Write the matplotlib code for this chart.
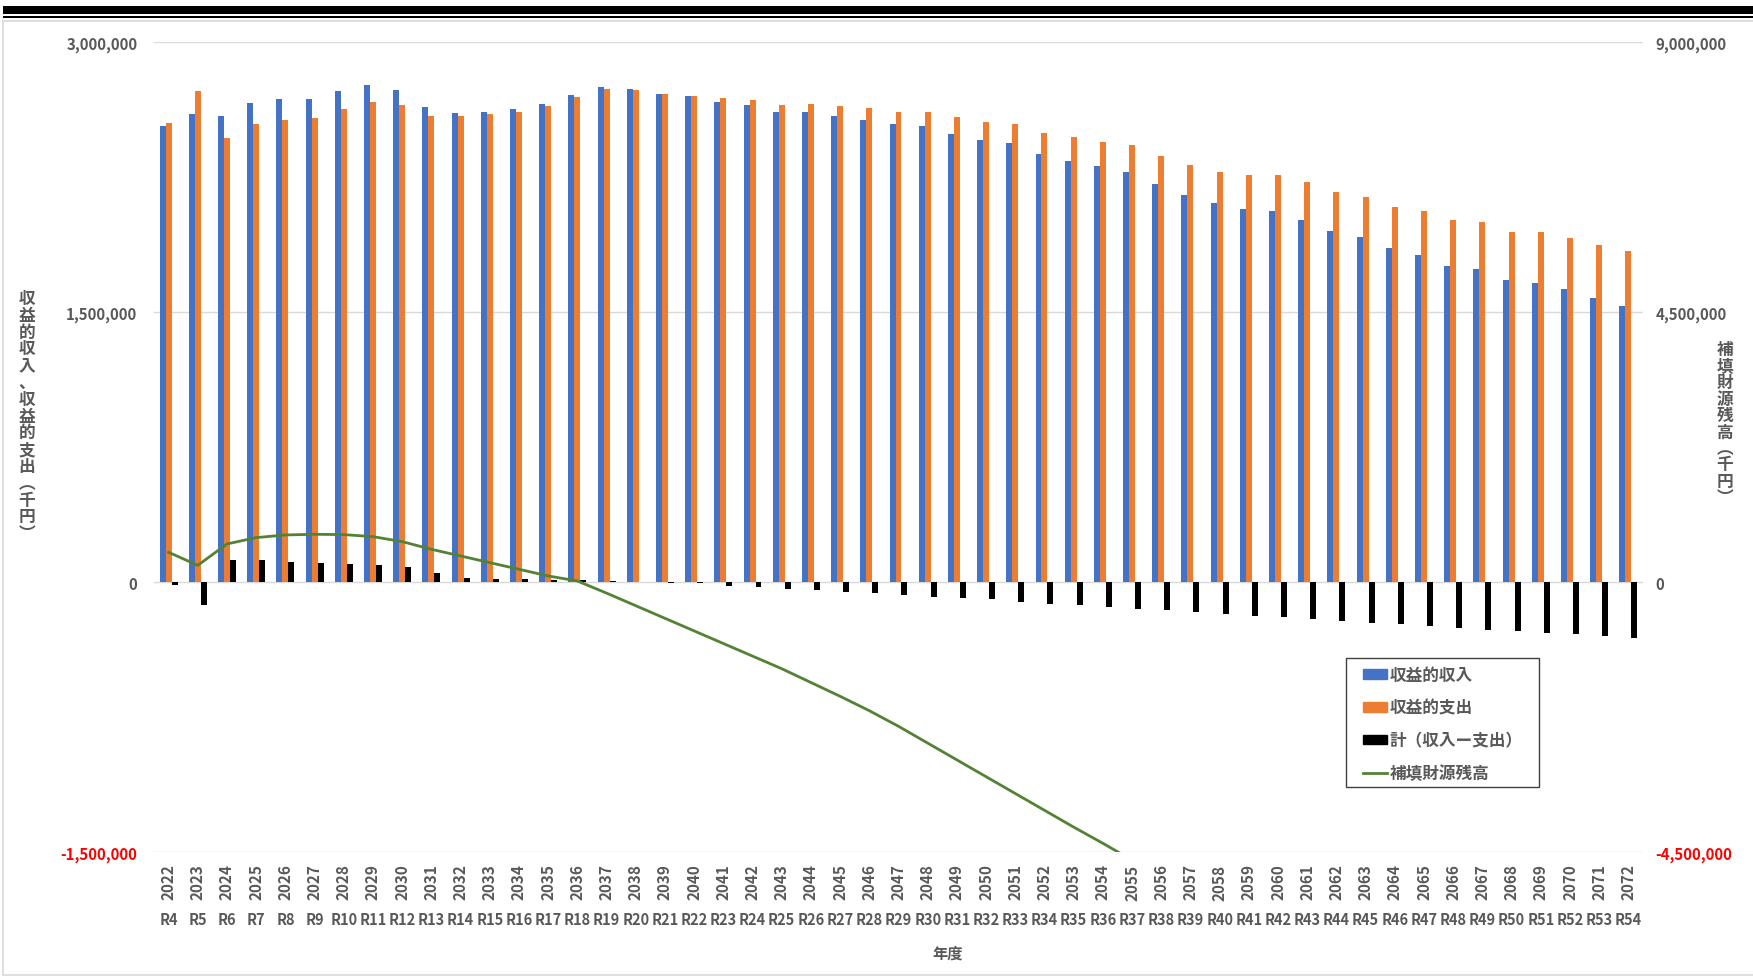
import numpy as np
import matplotlib
matplotlib.use("Agg")
import matplotlib.pyplot as plt
import matplotlib.transforms as mtransforms
from matplotlib.patches import Patch, Rectangle
from matplotlib.lines import Line2D
from matplotlib.ticker import FuncFormatter

plt.rcParams['font.family'] = ['Noto Sans CJK JP', 'DejaVu Sans']
plt.rcParams['font.weight'] = 'bold'

# 年度（西暦・令和）
years = [2022, 2023, 2024, 2025, 2026, 2027, 2028, 2029, 2030, 2031,
         2032, 2033, 2034, 2035, 2036, 2037, 2038, 2039, 2040, 2041,
         2042, 2043, 2044, 2045, 2046, 2047, 2048, 2049, 2050, 2051,
         2052, 2053, 2054, 2055, 2056, 2057, 2058, 2059, 2060, 2061,
         2062, 2063, 2064, 2065, 2066, 2067, 2068, 2069, 2070, 2071, 2072]
reiwa = ["R%d" % (y - 2018) for y in years]

# 収益的収入（千円）
revenue = [2534000, 2602000, 2590000, 2665000, 2683000, 2683000, 2727000, 2764000, 2733000, 2640000,
           2609000, 2615000, 2627000, 2658000, 2708000, 2752000, 2739000, 2714000, 2702000, 2671000,
           2652000, 2615000, 2615000, 2590000, 2571000, 2547000, 2534000, 2491000, 2460000, 2441000,
           2379000, 2342000, 2311000, 2280000, 2211000, 2149000, 2106000, 2075000, 2062000, 2012000,
           1950000, 1919000, 1857000, 1820000, 1758000, 1739000, 1677000, 1665000, 1627000, 1578000,
           1534000]

# 収益的支出（千円）
expense = [2553000, 2727000, 2466000, 2547000, 2571000, 2578000, 2627000, 2671000, 2652000, 2590000,
           2590000, 2602000, 2615000, 2646000, 2696000, 2739000, 2733000, 2714000, 2702000, 2689000,
           2677000, 2652000, 2658000, 2646000, 2634000, 2615000, 2615000, 2584000, 2559000, 2547000,
           2497000, 2472000, 2447000, 2429000, 2366000, 2317000, 2280000, 2261000, 2261000, 2224000,
           2168000, 2143000, 2087000, 2062000, 2012000, 2000000, 1944000, 1944000, 1913000, 1876000,
           1839000]

# 計（収入ー支出）
balance = [-15000, -125000, 126000, 122000, 113000, 109000, 104000, 96000, 87000, 52000,
           22000, 19000, 17000, 13000, 11000, 9000, 3000, -2000, -6000, -19000,
           -26000, -35000, -43000, -52000, -61000, -70000, -80000, -87000, -95000, -108000,
           -118000, -128000, -139000, -148000, -156000, -167000, -178000, -185000, -194000, -206000,
           -215000, -224000, -233000, -243000, -252000, -263000, -270000, -280000, -289000, -298000,
           -307000]

# 補填財源残高（千円）※2055年度以降はグラフ範囲外
reserve = [500000, 283000, 639000, 745000, 789000, 800000, 795000, 761000, 678000, 550000,
           439000, 328000, 217000, 106000, 22000, -180000, -390000, -600000, -810000, -1020000,
           -1230000, -1440000, -1670000, -1900000, -2140000, -2400000, -2680000, -2960000, -3240000, -3520000,
           -3800000, -4080000, -4350000, -4630000]

W, H = 1753, 978
GRAY = '#595959'
BLUE = '#4472C4'
ORANGE = '#ED7D31'
GREEN = '#548235'

fig = plt.figure(figsize=(W / 100, H / 100), dpi=100)

# 上部の飾り罫線と枠
fig.add_artist(Rectangle((3 / W, 1 - 15 / H), 1, 8 / H, transform=fig.transFigure,
                         color='black', lw=0))
fig.add_artist(Rectangle((3 / W, 1 - 18.5 / H), 1, 2 / H, transform=fig.transFigure,
                         color='black', lw=0))
fig.add_artist(Line2D([3 / W, 1], [1 - 22 / H, 1 - 22 / H], transform=fig.transFigure,
                      color='#D9D9D9', lw=1.2))
fig.add_artist(Line2D([3 / W, 3 / W], [1 - 22 / H, 1 - 976 / H], transform=fig.transFigure,
                      color='#D9D9D9', lw=1.2))
fig.add_artist(Line2D([3 / W, 1], [1 - 976 / H, 1 - 976 / H], transform=fig.transFigure,
                      color='#D9D9D9', lw=1.2))

ax = fig.add_axes([154 / W, 1 - 853.3 / H, (1643 - 154) / W, (853.3 - 43.3) / H])

x = np.arange(len(years))
bw = 0.205
ax.bar(x - bw, revenue, bw, color=BLUE, zorder=2)
ax.bar(x, expense, bw, color=ORANGE, zorder=2)
ax.bar(x + bw, balance, bw, color='black', zorder=2)

ax.set_xlim(-0.5, len(years) - 0.5)
ax.set_ylim(-1500000, 3000000)
ax.set_yticks([-1500000, 0, 1500000, 3000000])
ax.yaxis.set_major_formatter(FuncFormatter(lambda v, p: f'{v:,.0f}'))
ax.grid(axis='y', color='#D9D9D9', lw=1, zorder=0)
ax.set_axisbelow(True)
for s in ax.spines.values():
    s.set_visible(False)
ax.set_xticks(x, [str(y) for y in years], rotation=90)
ax.tick_params(axis='y', length=0, pad=12, labelsize=10.8, labelcolor=GRAY)
ax.tick_params(axis='x', length=0, pad=8, labelsize=11, labelcolor=GRAY)
ax.get_yticklabels()[0].set_color('red')

# 令和表記
trans = mtransforms.blended_transform_factory(ax.transData, fig.transFigure)
for i, r in enumerate(reiwa):
    ax.text(i, 1 - 920 / H, r, transform=trans, ha='center', va='center',
            fontsize=10.5, color=GRAY)

# 右軸：補填財源残高
ax2 = ax.twinx()
ax2.plot(x[:len(reserve)], reserve, color=GREEN, lw=2, zorder=3)
ax2.set_ylim(-4500000, 9000000)
ax2.set_yticks([-4500000, 0, 4500000, 9000000])
ax2.yaxis.set_major_formatter(FuncFormatter(lambda v, p: f'{v:,.0f}'))
for s in ax2.spines.values():
    s.set_visible(False)
ax2.tick_params(axis='y', length=0, pad=9, labelsize=10.8, labelcolor=GRAY)
ax2.get_yticklabels()[0].set_color('red')


def vertical_text(xp, y0, step, chars, **kw):
    # 縦書き：1文字ずつ積む
    for k, c in enumerate(chars):
        fig.text(xp / W, 1 - (y0 + k * step) / H, c, ha='center', va='center', **kw)


vertical_text(27, 299, 16.8, "収益的収入、収益的支出︵千円︶", fontsize=12, color=GRAY)
vertical_text(1725, 350, 16.5, "補填財源残高︵千円︶", fontsize=12, color=GRAY)

fig.text(948 / W, 1 - 954 / H, "年度", ha='center', va='center', fontsize=11, color=GRAY)

# 凡例
handles = [Patch(color=BLUE), Patch(color=ORANGE), Patch(color='black'),
           Line2D([], [], color=GREEN, lw=2)]
labels = ["収益的収入", "収益的支出", "計（収入ー支出）", "補填財源残高"]
fig.legend(handles, labels, loc='upper left', bbox_to_anchor=(1362.7 / W, 1 - 667 / H),
           frameon=False, fontsize=12, labelcolor=GRAY, handlelength=1.45,
           handleheight=0.52, handletextpad=0.15, labelspacing=0.88, borderpad=0,
           borderaxespad=0)
fig.add_artist(Rectangle((1345.7 / W, 1 - 788.3 / H), (1539.3 - 1345.7) / W, (788.3 - 659) / H,
                         transform=fig.transFigure, fill=False, ec='#404040', lw=1))

fig.savefig("out.png", dpi=100, facecolor='white')
